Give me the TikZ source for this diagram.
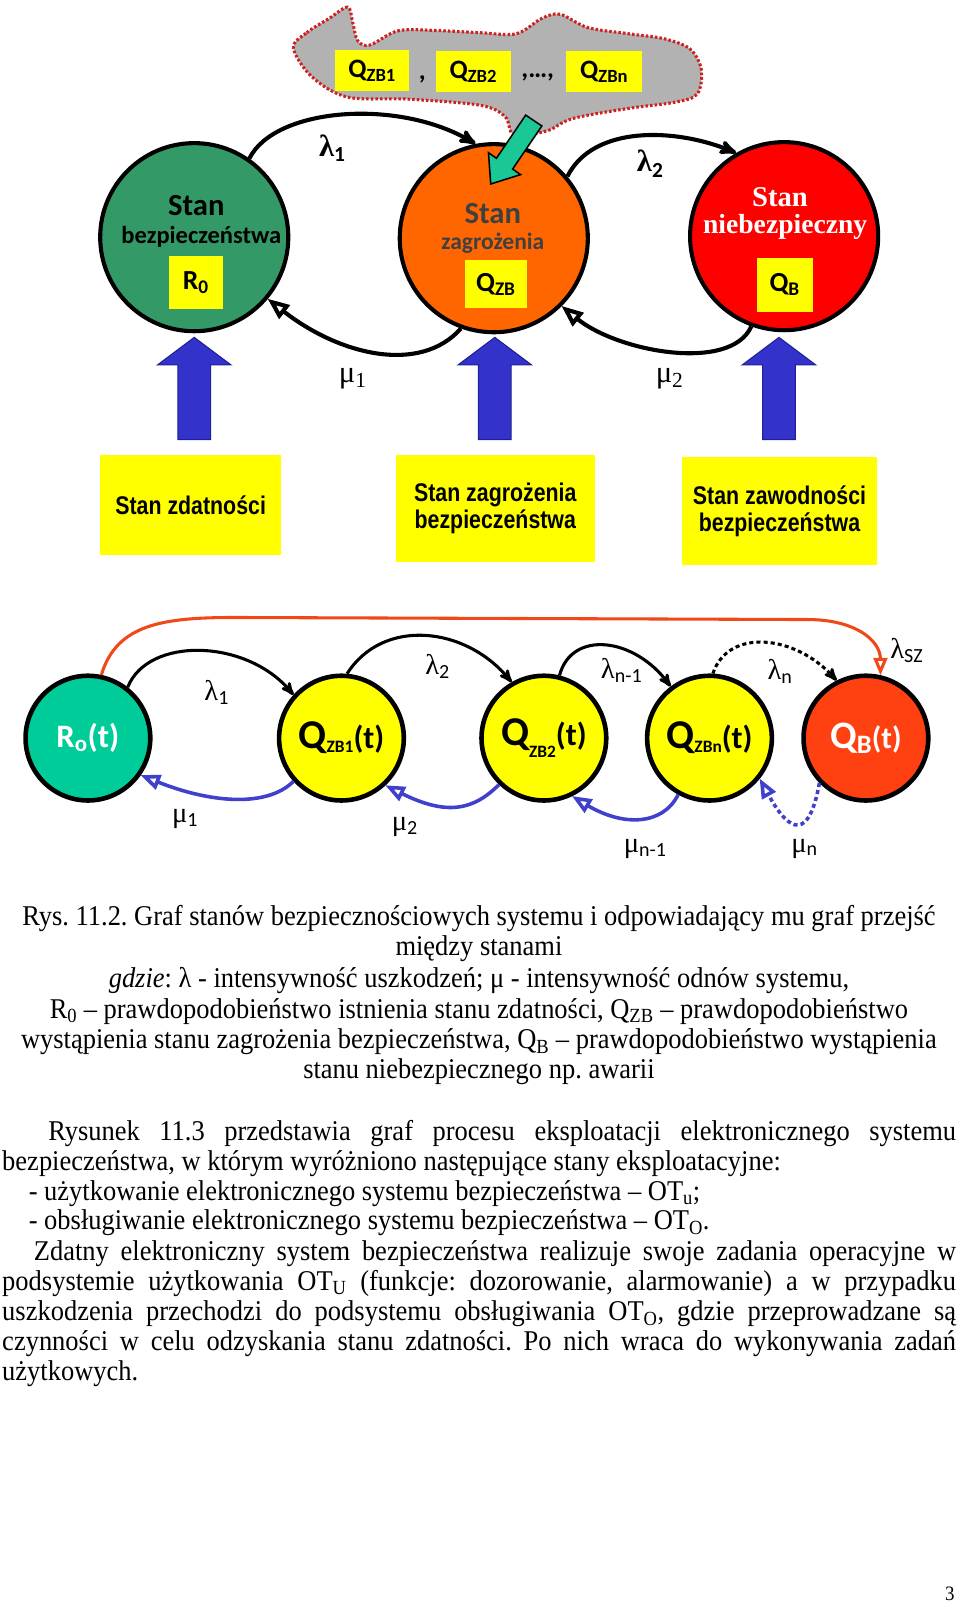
\documentclass[tikz,border=0pt]{standalone}
\usepackage{fontspec}
\setmainfont{Liberation Serif}[FakeStretch=0.925]
\newfontfamily\calib{Carlito}
\newfontfamily\arialn{Liberation Sans}[FakeStretch=0.835]
\newfontfamily\timesrm{Liberation Serif}
\usetikzlibrary{arrows}
\newcommand{\rozm}[1]{\fontsize{#1}{#1}\selectfont}
\newcommand{\lamb}[1]{{\timesrm λ}\textsubscript{\calib #1}}
\newcommand{\mikro}[1]{{\timesrm μ}\textsubscript{\calib #1}}
\newcommand{\stanQ}[2][-3pt]{{\rozm{40}Q}\raisebox{#1}{\rozm{17}#2}{\rozm{31}(t)}}
\definecolor{zielony}{RGB}{51,153,102}
\definecolor{pomarancz}{RGB}{255,102,0}
\definecolor{czerwony}{RGB}{255,0,0}
\definecolor{turkus}{RGB}{0,204,153}
\definecolor{zolty}{RGB}{255,255,0}
\definecolor{ognisty}{RGB}{255,64,16}
\definecolor{szary}{RGB}{178,178,178}
\definecolor{kropki}{RGB}{204,34,34}
\definecolor{niebieski}{RGB}{51,51,204}
\definecolor{ciemnonieb}{RGB}{30,30,150}
\definecolor{fioletowy}{RGB}{64,64,204}
\definecolor{linia}{RGB}{240,72,24}
\definecolor{zielarr}{RGB}{26,200,150}
\definecolor{ciemny}{RGB}{64,64,64}
\tikzset{
	stan/.style = {circle, draw=black, line width=4pt, minimum size=184pt,
		inner sep=0pt},% stan grafu stanow
	wezel/.style = {circle, draw=black, line width=4.5pt, minimum size=122pt,
		inner sep=0pt, font=\calib\bfseries},% wezel grafu przejsc
	ramka/.style = {fill=zolty, inner sep=0pt, text centered,
		font=\calib\bfseries\rozm{27}},% zolte pole z symbolem
	opis/.style = {fill=zolty, inner sep=0pt, align=center,
		font=\arialn\bfseries\fontsize{25}{26}\selectfont},% zolte pole z opisem
	luk/.style = {black, line width=4pt, -stealth'},
	luk_w/.style = {black, line width=4pt, -open triangle 45},
	przejscie/.style = {black, line width=3pt, -stealth'},
	powrot/.style = {fioletowy, line width=3.5pt, -open triangle 45},
	dlugi/.style = {linia, line width=3pt, -open triangle 45},
	kreski/.style = {dash pattern=on 4pt off 3pt},
	strzalka/.style = {fill=niebieski, draw=ciemnonieb, line width=1pt},
	srodek/.style = {inner sep=0pt, anchor=base, font=\rozm{28}},% wiersz podpisu
	wiersz/.style = {inner sep=0pt, anchor=base west, font=\rozm{28}}% wiersz tekstu
}
\begin{document}
\frenchspacing
\begin{tikzpicture}[x=1pt,y=1pt]
\useasboundingbox (0,0) rectangle (939,-1568);
% chmura stanow zagrozenia
\draw[fill=szary, draw=kropki, line width=3pt, dash pattern=on 2.5pt off 2pt]
	plot[smooth cycle, tension=0.55] coordinates {(287,-47) (300,-32) (322,-18)
	(340,-7) (345,-22) (350,-40) (362,-44) (390,-30) (430,-30) (470,-32) (505,-33)
	(530,-18) (548,-14) (575,-27) (615,-33) (650,-38) (675,-48) (686,-68) (682,-92)
	(660,-100) (615,-106) (560,-116) (535,-128) (503,-132) (494,-114) (470,-103)
	(400,-97) (340,-95) (305,-75)};
\node[ramka, minimum width=72pt, minimum height=40pt, font=\calib\bfseries\rozm{26}] (qzb1) at (364,-69) {Q\textsubscript{ZB1}};
\node[ramka, minimum width=74pt, minimum height=40pt, font=\calib\bfseries\rozm{26}] (qzb2) at (463,-70) {Q\textsubscript{ZB2}};
\node[ramka, minimum width=74pt, minimum height=40pt, font=\calib\bfseries\rozm{26}] (qzbn) at (591,-70) {Q\textsubscript{ZBn}};
\node[font=\calib\bfseries\rozm{26}] (przec1) at (413,-78) {,};
\node[font=\calib\bfseries\rozm{26}] (przec2) at (526,-76) {,\ldots,};
% stany
\node[stan, fill=zielony] (bezp) at (190,-232) {};
\node[stan, fill=pomarancz] (zagr) at (483,-233) {};
\node[stan, fill=czerwony] (niebezp) at (767,-231) {};
\node[font=\calib\bfseries\rozm{30}] (bezp_t1) at (192,-201) {Stan};
\node[font=\calib\bfseries\rozm{24}] (bezp_t2) at (197,-232) {bezpieczeństwa};
\node[ramka, minimum width=53pt, minimum height=52pt] (bezp_r) at (191.5,-276) {R\textsubscript{0}};
\node[font=\calib\bfseries\rozm{30}, text=ciemny] (zagr_t1) at (482,-209) {Stan};
\node[font=\calib\bfseries\rozm{23}, text=ciemny] (zagr_t2) at (482,-238) {zagrożenia};
\node[ramka, minimum width=60pt, minimum height=47pt] (zagr_q) at (485,-278) {Q\textsubscript{ZB}};
\node[font=\timesrm\bfseries\rozm{28}, text=white] (niebezp_t1) at (763,-193) {Stan};
\node[font=\timesrm\bfseries\rozm{27}, text=white] (niebezp_t2) at (768,-222) {niebezpieczny};
\node[ramka, minimum width=55pt, minimum height=53pt] (niebezp_q) at (767.5,-278.5) {Q\textsubscript{B}};
% strzalka z chmury
\draw[fill=zielarr, draw=black, line width=1.5pt] (480,-180) -- (509.2,-170.8)
	-- (501.4,-165.4) -- (530,-123.2) -- (514.2,-112.6) -- (485.6,-154.8)
	-- (477.8,-149.4) -- cycle;
% luki grafu stanow
\draw[luk] (bezp.55) .. controls +(25,50) and +(-75,45) .. (zagr.101);
\draw[luk] (zagr.40) .. controls +(25,50) and +(-60,25) .. (niebezp.120);
\draw[luk_w] (zagr.250) .. controls +(-40,-45) and +(70,-55) .. (bezp.-40);
\draw[luk_w] (niebezp.250) .. controls +(-20,-45) and +(55,-45) .. (zagr.-45);
\node[font=\timesrm\bfseries\rozm{30}] (lam1) at (325,-145) {λ\textsubscript{\calib\bfseries 1}};
\node[font=\timesrm\bfseries\rozm{30}] (lam2) at (636,-160) {λ\textsubscript{\calib\bfseries 2}};
\node[font=\timesrm\rozm{30}] (mi1) at (345,-370) {μ\textsubscript{1}};
\node[font=\timesrm\rozm{30}] (mi2) at (655,-370) {μ\textsubscript{2}};
% niebieskie strzalki
\foreach \x in {190,484,762}
	\draw[strzalka] (\x,-330) -- ++(36,-27) -- ++(-20,0) -- ++(0,-73) -- ++(-32,0)
		-- ++(0,73) -- ++(-20,0) -- cycle;
\node[opis, minimum width=177pt, minimum height=98pt] (zdat) at (186.5,-494) {Stan zdatności};
\node[opis, minimum width=195pt, minimum height=105pt] (zagroz) at (484.5,-497.5) {Stan zagrożenia\\bezpieczeństwa};
\node[opis, minimum width=191pt, minimum height=106pt] (zawod) at (762.5,-500) {Stan zawodności\\bezpieczeństwa};
% graf przejsc
\node[wezel, fill=turkus, text=white] (R) at (86,-722) {\rozm{32}R\textsubscript{o}(t)};
\node[wezel, fill=zolty] (QA) at (334,-722) {\stanQ{ZB1}};
\node[wezel, fill=zolty] (QB2) at (532,-722) {\stanQ[-12pt]{ZB2}};
\node[wezel, fill=zolty] (QN) at (694,-722) {\stanQ{ZBn}};
\node[wezel, fill=ognisty, text=white] (QB) at (847,-722) {{\rozm{38}Q}\raisebox{-5pt}{\rozm{26}B}{\rozm{30}(t)}};
\coordinate (sz1) at (230,-604);
\coordinate (sz2) at (790,-606);
\draw[dlugi] (R.78) .. controls +(15,50) and +(-70,0) .. (sz1) -- (sz2)
	.. controls +(45,0) and +(0,35) .. (QB.77);
\draw[przejscie] (R.52) .. controls +(20,50) and +(-45,55) .. (QA.138);
\draw[przejscie] (QA.85) .. controls +(35,55) and +(-45,55) .. (QB2.120);
\draw[przejscie] (QB2.76) .. controls +(12,45) and +(-35,48) .. (QN.127);
\draw[przejscie, kreski] (QN.87) .. controls +(15,45) and +(-40,45) .. (QB.117);
\draw[powrot] (QA.-138) .. controls +(-25,-25) and +(70,-28) .. (R.-35);
\draw[powrot] (QB2.-134) .. controls +(-25,-25) and +(60,-30) .. (QA.-47);
\draw[powrot] (QN.-119) .. controls +(-15,-30) and +(50,-30) .. (QB2.-64);
\draw[powrot, kreski] (QB.-136) .. controls +(-10,-55) and +(30,-55) .. (QN.-39);
\node[font=\rozm{28}] (l1) at (212,-677) {\lamb{1}};
\node[font=\rozm{28}] (l2) at (428,-652) {\lamb{2}};
\node[font=\rozm{28}] (ln1) at (608,-656) {\lamb{n-1}};
\node[font=\rozm{28}] (ln) at (763,-657) {\lamb{n}};
\node[font=\rozm{28}] (lsz) at (887,-636) {\lamb{SZ}};
\node[font=\rozm{28}] (m1) at (181,-801) {\mikro{1}};
\node[font=\rozm{28}] (m2) at (396,-809) {\mikro{2}};
\node[font=\rozm{28}] (mn1) at (631,-830) {\mikro{n-1}};
\node[font=\rozm{28}] (mn) at (787,-830) {\mikro{n}};
% podpis rysunku
\node[srodek] (pod1) at (468.5,-905) {Rys. 11.2. Graf stanów bezpiecznościowych systemu i odpowiadający mu graf przejść};
\node[srodek] (pod2) at (468.5,-935) {między stanami};
\node[srodek] (pod3) at (468.5,-966) {\textit{gdzie}: λ - intensywność uszkodzeń; μ - intensywność odnów systemu,};
\node[srodek] (pod4) at (468.5,-996) {R\textsubscript{0} – prawdopodobieństwo istnienia stanu zdatności, Q\textsubscript{ZB} – prawdopodobieństwo};
\node[srodek] (pod5) at (468.5,-1026) {wystąpienia stanu zagrożenia bezpieczeństwa, Q\textsubscript{B} – prawdopodobieństwo wystąpienia};
\node[srodek] (pod6) at (468.5,-1055) {stanu niebezpiecznego np. awarii};
% tekst
\node[wiersz] (w1) at (47,-1116) {\makebox[888pt][s]{Rysunek 11.3 przedstawia graf procesu eksploatacji elektronicznego systemu}};
\node[wiersz] (w2) at (2,-1145) {bezpieczeństwa, w którym wyróżniono następujące stany eksploatacyjne:};
\node[wiersz] (w3) at (28,-1174) {- użytkowanie elektronicznego systemu bezpieczeństwa – OT\textsubscript{u};};
\node[wiersz] (w4) at (28,-1203) {- obsługiwanie elektronicznego systemu bezpieczeństwa – OT\textsubscript{O}.};
\node[wiersz] (w5) at (33,-1233) {\makebox[902pt][s]{Zdatny elektroniczny system bezpieczeństwa realizuje swoje zadania operacyjne w}};
\node[wiersz] (w6) at (2,-1262) {\makebox[933pt][s]{podsystemie użytkowania OT\textsubscript{U} (funkcje: dozorowanie, alarmowanie) a w przypadku}};
\node[wiersz] (w7) at (2,-1292) {\makebox[933pt][s]{uszkodzenia przechodzi do podsystemu obsługiwania OT\textsubscript{O}, gdzie przeprowadzane są}};
\node[wiersz] (w8) at (2,-1321) {\makebox[933pt][s]{czynności w celu odzyskania stanu zdatności. Po nich wraca do wykonywania zadań}};
\node[wiersz] (w9) at (2,-1350) {użytkowych.};
\node[srodek, font=\rozm{20}] (strona) at (929,-1566) {3};
\end{tikzpicture}
\end{document}
